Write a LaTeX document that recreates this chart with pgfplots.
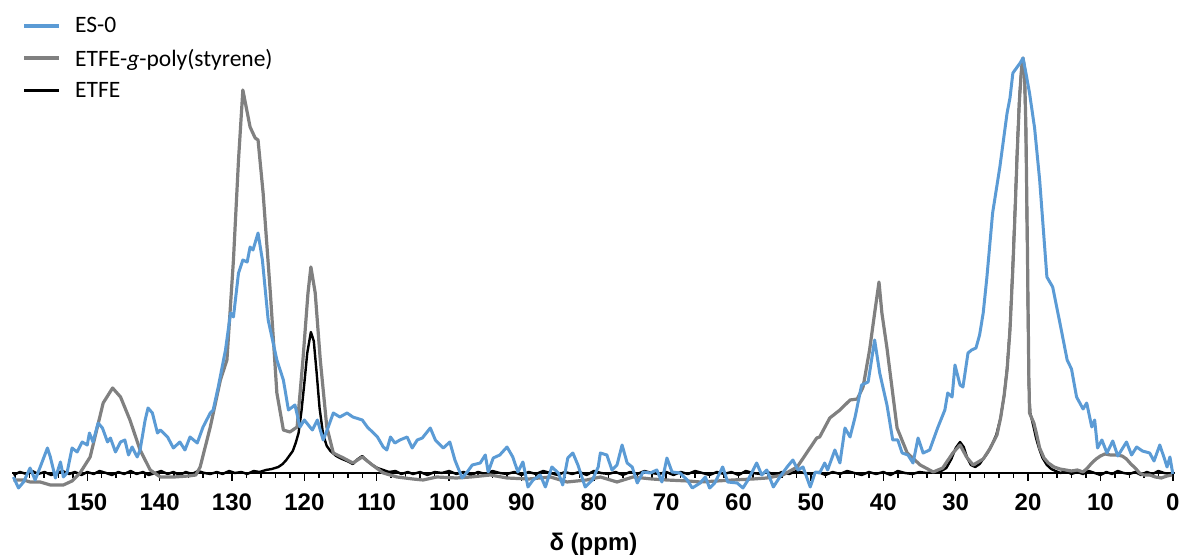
\documentclass[border=0pt]{standalone}
\usepackage{fontspec}
\setmainfont{Carlito}
\newfontfamily\axisfont{Liberation Sans}
\usepackage{pgfplots}
\pgfplotsset{compat=1.18}

\definecolor{esblue}{RGB}{91,155,213}
\definecolor{graftgrey}{RGB}{128,128,128}

% 13C solid-state NMR spectra: chemical shift (ppm) vs. intensity (a.u.)
\pgfplotstableread{
ppm h
160.2 -4
159.5 -15
158.8 -9
157.9 5
157.2 -7
156.5 6
155.5 25
155.1 16
154.4 -5
153.7 11
153.3 -4
152.8 0
152.1 25
151.4 21
150.7 31
150.0 28
149.7 40
149.2 31
148.5 50
147.9 45
147.2 31
146.8 35
146.1 21
145.4 31
144.8 33
144.3 18
143.8 26
143.1 16
142.7 23
142.0 53
141.6 65
141.0 60
140.3 40
139.9 43
138.9 36
138.1 25
137.2 31
136.5 23
135.8 36
134.8 30
134.0 46
133.0 60
132.6 63
131.9 86
130.9 123
130.2 160
129.8 156
129.1 200
128.5 213
127.9 211
127.5 226
127.1 223
126.4 240
125.8 213
125.0 153
123.8 113
122.9 93
122.2 63
121.3 68
120.6 46
120.0 53
118.9 43
118.2 53
117.4 33
116.7 46
116.0 60
115.1 56
114.1 60
113.3 56
112.0 53
111.3 46
109.9 36
109.1 26
108.6 23
108.1 36
107.5 30
106.8 33
105.8 36
105.1 25
104.4 33
103.7 35
102.6 45
101.9 33
100.8 25
99.9 31
99.2 13
98.2 -5
97.5 1
96.8 8
95.7 10
95.0 18
94.6 1
93.9 15
93.0 18
92.0 26
91.2 16
90.5 1
89.8 11
89.1 -14
88.4 -7
87.4 -2
86.7 -14
85.8 6
84.9 0
84.3 -12
83.6 15
82.9 20
82.2 8
81.2 -14
80.2 -7
79.4 6
79.1 20
78.2 18
77.5 3
76.8 8
76.1 28
75.4 10
74.7 6
74.0 -10
73.2 1
72.2 0
71.3 3
70.6 -9
69.9 15
69.2 1
68.1 0
67.1 -7
66.4 -15
65.3 -10
64.6 -4
64.0 -15
63.3 -10
62.2 6
61.5 -9
60.2 -10
59.4 -15
58.7 -7
57.5 10
56.8 -2
56.1 3
55.2 -14
54.3 -4
53.3 6
52.5 13
51.8 3
51.1 6
50.1 -14
49.4 1
48.8 0
48.1 10
47.7 3
46.7 23
46.0 10
45.3 45
44.6 36
43.9 56
43.0 88
42.1 91
41.2 133
40.5 100
39.5 68
38.7 33
38.0 33
37.4 20
36.6 18
35.9 10
35.2 35
34.5 20
33.6 23
32.5 45
31.5 63
31.1 80
30.5 76
30.1 108
29.4 88
29.0 86
28.3 120
27.8 123
27.2 125
26.7 138
26.2 160
25.7 195
24.9 260
23.9 306
22.9 360
22.5 375
22.1 400
21.5 406
21.1 410
20.7 415
20.3 400
19.8 380
19.1 345
18.4 293
17.4 196
16.6 186
15.6 150
14.6 113
14.0 104
13.3 76
12.4 64
11.9 70
11.2 46
10.8 53
10.4 25
9.8 33
9.1 20
8.3 32
7.6 17
7.0 24
6.4 31
5.7 18
5.0 26
4.2 22
3.2 20
2.6 12
1.8 28
1.1 13
0.8 6
0.4 16
0.0 -1
}\esdata

\pgfplotstableread{
ppm h
160.2 -7
158.8 -7
157.9 -9
156.5 -9
155.1 -12
153.7 -12
153.3 -12
152.1 -8
151.0 0
149.6 16
148.6 46
147.8 70
146.5 85
145.4 76
144.1 53
142.7 23
141.3 3
139.9 -4
138.0 -4
136.0 -3
135.0 -2
134.4 6
133.0 46
131.6 93
130.7 113
129.8 213
129.1 313
128.5 383
127.5 346
126.8 335
126.4 333
125.7 280
124.7 180
123.8 80
122.9 43
122.0 41
121.0 46
120.2 113
119.5 180
119.1 206
118.5 180
117.8 113
116.9 46
116.0 20
114.6 15
113.3 10
112.0 16
110.6 8
109.1 0
107.2 -4
105.0 -6
103.6 -7
101.7 -4
99.0 -5
97.0 -4
94.3 -2
92.0 -5
89.0 -6
86.0 -4
83.7 -9
81.0 -7
79.1 -4
76.8 -9
74.6 -4
72.0 -6
69.9 -7
67.0 -8
65.3 -9
63.0 -8
60.8 -7
58.0 -6
56.1 -5
53.9 -2
51.9 6
50.6 20
49.2 35
48.8 36
47.4 55
46.0 63
44.6 73
43.6 74
42.8 86
41.9 123
41.2 160
40.6 191
40.2 160
39.5 125
38.8 85
38.1 45
36.7 20
34.9 8
33.1 1
31.8 5
30.4 20
29.4 28
28.5 16
27.6 8
26.2 14
25.3 24
24.3 38
23.8 55
23.3 78
22.9 103
22.5 143
22.1 205
21.8 260
21.5 320
21.2 372
20.9 405
20.7 415
20.5 405
20.3 345
20.1 230
19.9 100
19.8 60
19.5 55
19.2 50
18.8 38
18.4 25
17.8 15
17.2 10
16.4 6
15.6 4
14.8 3
14.0 2
13.2 3
12.4 1
11.8 5
11.2 10
10.6 14
10.0 17
9.4 19
8.6 18
7.8 18
7.0 17
6.4 14
5.8 9
5.2 5
4.6 0
4.0 -2
3.2 -2
2.4 -4
1.6 -5
0.8 -3
0.1 -2
}\graftdata

\pgfplotstableread{
ppm h
160.2 -2
159.3 1
158.4 -1
157.6 2
156.8 -1
155.9 1
155.0 -2
154.2 0
153.4 2
152.5 -1
151.7 1
150.8 -2
150.0 1
149.1 -1
148.3 2
147.4 0
146.6 -2
145.7 1
144.9 -1
144.0 2
143.2 -1
142.3 1
141.5 -2
140.6 0
139.8 2
138.9 -1
138.1 1
137.2 -2
136.4 1
135.5 -1
134.7 2
133.8 0
133.0 -1
132.1 1
131.3 -1
130.4 2
129.6 0
128.7 1
127.9 -1
127.0 2
126.2 1
125.3 3
124.5 4
123.6 6
123.0 9
122.5 13
122.0 18
121.6 22
121.2 30
120.8 40
120.4 62
120.0 90
119.6 120
119.1 141
118.7 132
118.3 100
117.9 65
117.4 38
116.9 27
116.4 22
115.6 17
114.8 14
114.1 12
113.3 9
112.6 14
112.0 17
111.3 12
110.6 8
109.9 5
109.1 3
108.3 1
107.4 2
106.6 -1
105.7 1
105.0 -1
104.0 1
103.0 -2
102.0 1
101.0 0
100.0 2
99.0 -1
98.0 1
97.0 -2
96.0 1
95.0 -1
94.0 2
93.0 0
92.0 -1
91.0 1
90.0 -2
89.0 1
88.0 -1
87.0 2
86.0 0
85.0 -2
84.0 1
83.0 -1
82.0 1
81.0 -2
80.0 2
79.0 0
78.0 -1
77.0 1
76.0 -2
75.0 1
74.0 -1
73.0 2
72.0 0
71.0 -1
70.0 1
69.0 -2
68.0 1
67.0 -1
66.0 2
65.0 0
64.0 -2
63.0 1
62.0 -1
61.0 1
60.0 -2
59.0 2
58.0 0
57.0 -1
56.0 1
55.0 -2
54.0 1
53.0 -1
52.0 2
51.0 0
50.0 -1
49.0 1
48.0 -2
47.0 1
46.0 -1
45.0 2
44.0 0
43.0 -2
42.0 1
41.0 -1
40.0 1
39.0 -2
38.0 2
37.0 0
36.0 -1
35.0 1
34.0 0
33.0 1
32.0 2
31.3 5
30.6 14
30.0 25
29.4 31
28.9 26
28.4 15
27.9 8
27.3 6
26.7 9
26.2 14
25.6 20
25.0 28
24.4 38
23.8 55
23.3 78
22.9 105
22.5 145
22.1 210
21.8 265
21.5 325
21.2 375
20.9 405
20.7 412
20.5 400
20.3 340
20.1 220
19.9 90
19.7 60
19.3 48
18.9 35
18.5 25
18.0 15
17.4 8
16.8 4
16.2 2
15.5 0
14.8 2
14.0 -1
13.2 1
12.4 -1
11.6 2
10.8 0
10.0 -2
9.2 1
8.4 -1
7.6 2
6.8 0
6.0 -1
5.2 1
4.4 -2
3.6 1
2.8 -1
2.0 2
1.2 0
0.4 -1
0.0 0
}\etfedata

\begin{document}
\begin{tikzpicture}
\begin{axis}[
  at={(12pt,58pt)}, anchor=south west,
  scale only axis,
  width=1163pt, height=445pt,
  x dir=reverse,
  xmin=-0.3, xmax=160.4,
  ymin=-25, ymax=420,
  axis x line=middle,
  axis y line=none,
  axis line style={-, black, line width=2.5pt},
  hide obscured x ticks=false,
  xtick={0,10,...,150},
  minor xtick={2,4,...,160},
  xtick align=outside,
  major tick length=8pt,
  minor tick length=5pt,
  every tick/.style={black, line width=1.5pt},
  /pgf/number format/assume math mode=true,
  xticklabel style={font=\axisfont\fontsize{24}{28}\selectfont\bfseries, yshift=-9pt},
  xlabel={δ (ppm)},
  xlabel style={font=\axisfont\fontsize{24}{28}\selectfont\bfseries,
    at={(axis description cs:0.5,0)}, anchor=north, yshift=-32pt},
  clip=false,
  legend cell align=left,
  legend image code/.code={\draw[#1] (0pt,0pt) -- (35pt,0pt);},
  legend style={draw=none, fill=none, inner sep=0pt,
    font=\fontsize{23.5}{28}\selectfont,
    at={(axis description cs:0,1)}, anchor=north west,
    xshift=10pt, yshift=38pt, row sep=11pt,
    /tikz/every odd column/.append style={column sep=12pt}},
]
\addlegendimage{esblue, line width=4pt}
\addlegendentry{ES-0}
\addlegendimage{graftgrey, line width=4pt}
\addlegendentry{ETFE-\textit{g}-poly(styrene)}
\addlegendimage{black, line width=3pt}
\addlegendentry{ETFE}

\addplot[forget plot, black, line width=2.4pt, line join=round] table[x=ppm, y=h] {\etfedata};
\addplot[forget plot, graftgrey, line width=3.2pt, line join=round] table[x=ppm, y=h] {\graftdata};
\addplot[forget plot, esblue, line width=3pt, line join=round] table[x=ppm, y=h] {\esdata};
\end{axis}
\pgfresetboundingbox
\path (0pt,0pt) rectangle (1184pt,556pt);
\end{tikzpicture}
\end{document}
